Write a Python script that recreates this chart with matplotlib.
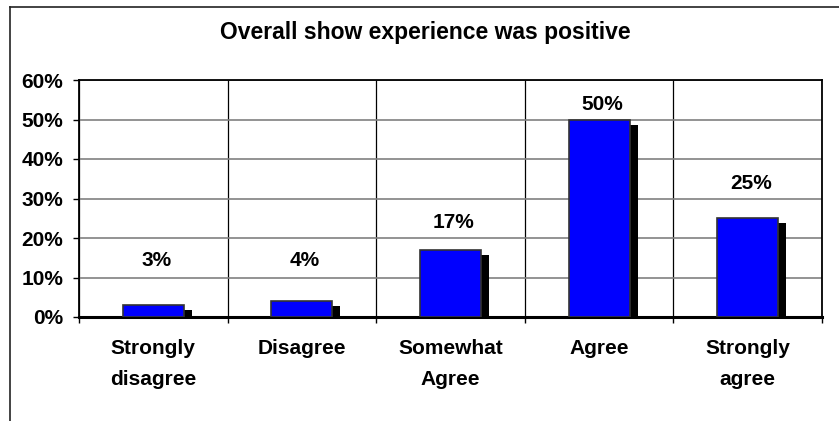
import numpy as np
import matplotlib
matplotlib.use("Agg")
import matplotlib.pyplot as plt
import matplotlib.patheffects as pe
from matplotlib.lines import Line2D

plt.rcParams['font.family'] = ['Liberation Sans', 'DejaVu Sans']
plt.rcParams['font.weight'] = 'bold'

# data
categories = ['Strongly\ndisagree', 'Disagree', 'Somewhat\nAgree', 'Agree', 'Strongly\nagree']
values = [3, 4, 17, 50, 25]
value_labels = ['3%', '4%', '17%', '50%', '25%']
yticks = [0, 10, 20, 30, 40, 50, 60]
ytick_labels = ['0%', '10%', '20%', '30%', '40%', '50%', '60%']

# where Excel put the value labels (in % units)
label_y = [14.4, 14.4, 23.8, 53.9, 33.7]

W, H = 839, 421
fig = plt.figure(figsize=(W / 100, H / 100), dpi=100)
fig.patch.set_facecolor('white')

# frame round the whole chart (right and bottom fall outside the picture)
fig.add_artist(Line2D([10 / W, 1], [1 - 7 / H, 1 - 7 / H], color='#222222', lw=1.2))
fig.add_artist(Line2D([10 / W, 10 / W], [0, 1 - 7 / H], color='#222222', lw=1.2))

ax = fig.add_axes([79 / W, (H - 317) / H, (822 - 79) / W, (317 - 80) / H])

x = np.arange(len(categories))
bars = ax.bar(x, values, width=0.41, color='#0000ff', edgecolor='#333333', linewidth=1.2, zorder=3)
for b in bars:
    b.set_path_effects([pe.SimplePatchShadow(offset=(5.8, -3.6), shadow_rgbFace='black', alpha=1.0),
                        pe.Normal()])

for xi, lab, ly in zip(x, value_labels, label_y):
    ax.text(xi + 0.02, ly, lab, ha='center', va='center', fontsize=15, fontweight='bold')

ax.set_xlim(-0.5, len(categories) - 0.5)
ax.set_ylim(0, 60)

ax.set_yticks(yticks)
ax.set_yticklabels(ytick_labels, fontsize=15, fontweight='bold')
ax.tick_params(axis='y', length=4.5, width=1, pad=7, color='black')

ax.set_xticks(x)
ax.set_xticklabels(categories, fontsize=15, fontweight='bold', linespacing=1.8)
ax.set_xticks(np.arange(-0.5, len(categories)), minor=True)
ax.tick_params(axis='x', which='major', length=0, pad=16)
ax.tick_params(axis='x', which='minor', length=4, width=1, color='black')

ax.yaxis.grid(True, color='#808080', lw=1.2, zorder=1)
ax.xaxis.grid(True, which='minor', color='black', lw=0.9, zorder=1)
ax.set_axisbelow(True)

for s in ['left', 'right', 'top']:
    ax.spines[s].set_linewidth(1.3)
ax.spines['bottom'].set_linewidth(2.2)

fig.text(425 / W, 1 - 33 / H, 'Overall show experience was positive', ha='center', va='center',
         fontsize=16.5, fontweight='bold')

fig.savefig('out.png', dpi=100)
